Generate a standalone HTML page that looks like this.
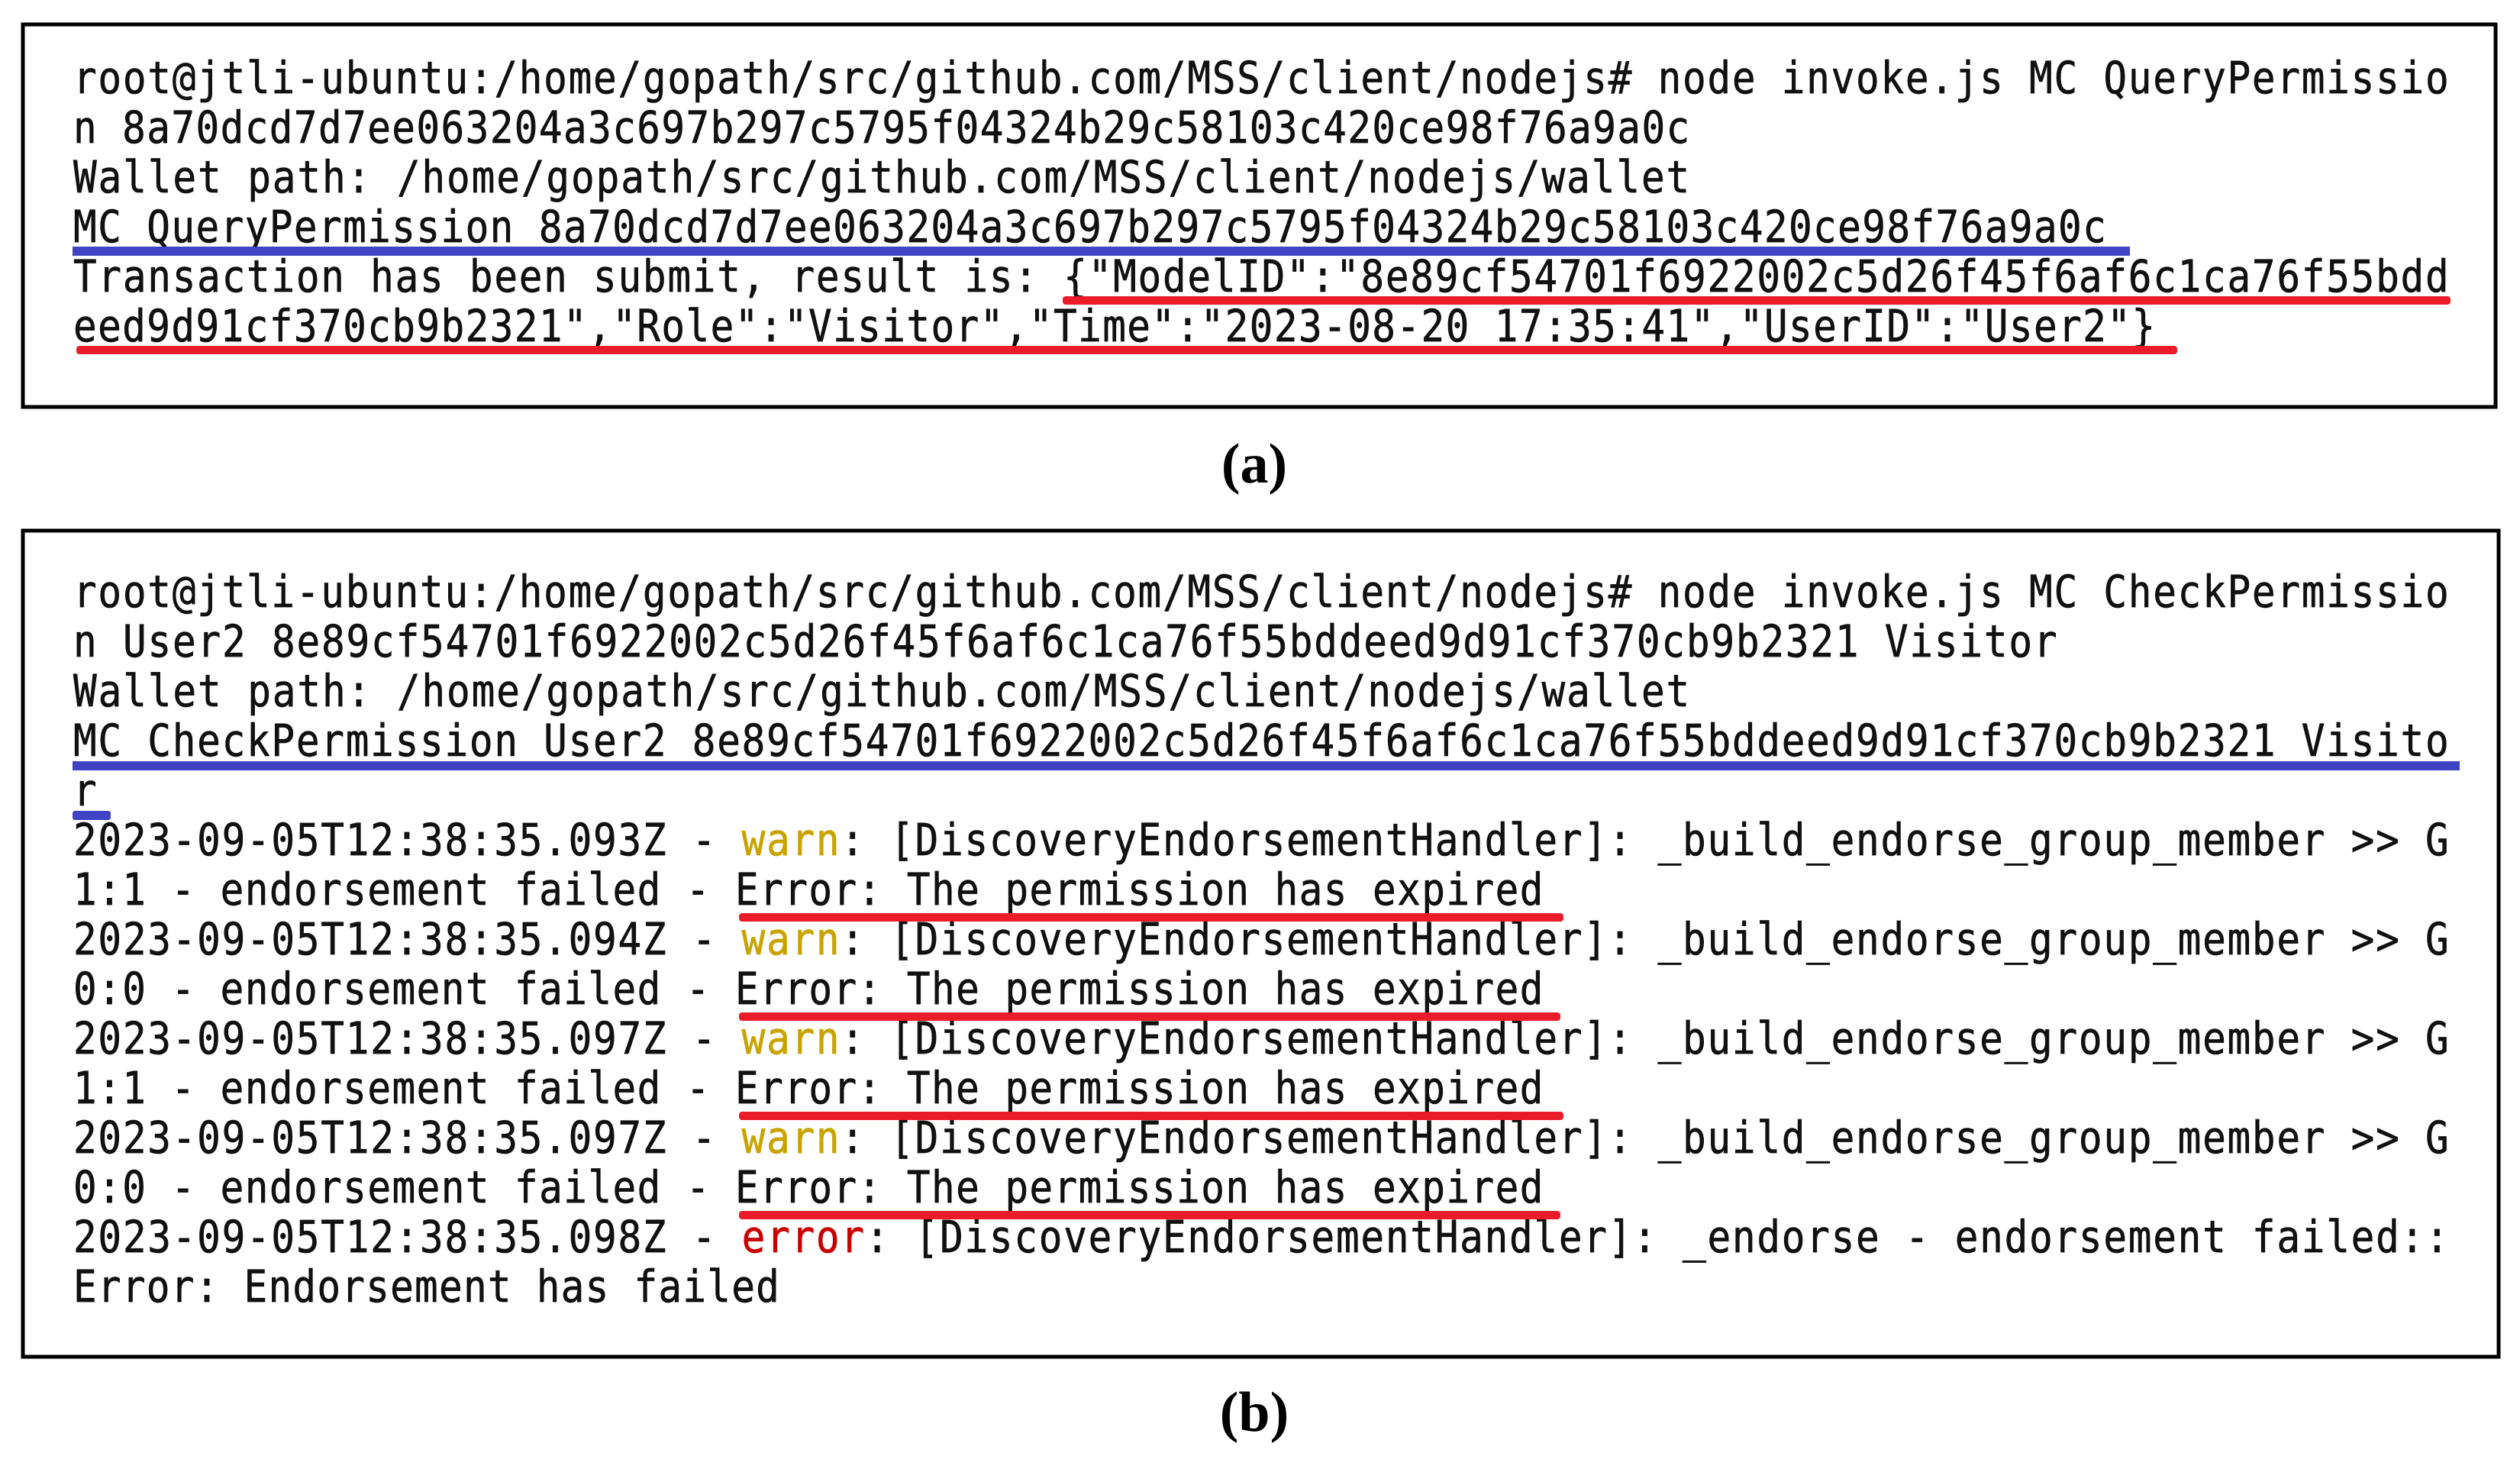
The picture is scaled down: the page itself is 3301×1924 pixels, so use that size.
<!DOCTYPE html>
<html><head><meta charset="utf-8"><style>
html,body{margin:0;padding:0;background:#fff;}
svg{display:block;}
text{font-family:"DejaVu Sans Mono","Liberation Mono",monospace;font-size:58px;fill:#111;stroke:#111;stroke-width:0.7px;}
.w{fill:#c8a400;stroke:#c8a400;} .e{fill:#c80000;stroke:#c80000;}
.lab{font-family:"Liberation Serif",serif;font-weight:bold;font-size:74px;fill:#000;stroke:none;}
</style></head><body>
<svg width="3301" height="1924" viewBox="0 0 3301 1924" xmlns="http://www.w3.org/2000/svg">
<rect x="30" y="32" width="3239" height="501" fill="none" stroke="#000" stroke-width="5"/>
<rect x="30" y="695" width="3243" height="1082" fill="none" stroke="#000" stroke-width="5"/>

<g transform="translate(96,0) scale(0.88,1)">
<text x="0" y="122" textLength="3536" lengthAdjust="spacing" xml:space="preserve">root@jtli-ubuntu:/home/gopath/src/github.com/MSS/client/nodejs# node invoke.js MC QueryPermissio</text>
<text x="0" y="187" textLength="2406" lengthAdjust="spacing" xml:space="preserve">n 8a70dcd7d7ee063204a3c697b297c5795f04324b29c58103c420ce98f76a9a0c</text>
<text x="0" y="252" textLength="2406" lengthAdjust="spacing" xml:space="preserve">Wallet path: /home/gopath/src/github.com/MSS/client/nodejs/wallet</text>
<text x="0" y="317" textLength="3026" lengthAdjust="spacing" xml:space="preserve">MC QueryPermission 8a70dcd7d7ee063204a3c697b297c5795f04324b29c58103c420ce98f76a9a0c</text>
<text x="0" y="382" textLength="3536" lengthAdjust="spacing" xml:space="preserve">Transaction has been submit, result is: {"ModelID":"8e89cf54701f6922002c5d26f45f6af6c1ca76f55bdd</text>
<text x="0" y="447" textLength="3099" lengthAdjust="spacing" xml:space="preserve">eed9d91cf370cb9b2321","Role":"Visitor","Time":"2023-08-20 17:35:41","UserID":"User2"}</text>
</g>
<rect x="95" y="323" width="2695" height="12" fill="#4044c4"/>
<rect x="1392" y="388" width="1818" height="11" rx="4" fill="#ea1c2a"/>
<rect x="100" y="453" width="2752" height="11" rx="4" fill="#ea1c2a"/>

<text class="lab" x="1643" y="632" text-anchor="middle">(a)</text>

<g transform="translate(96,0) scale(0.88,1)">
<text x="0" y="795" textLength="3536" lengthAdjust="spacing" xml:space="preserve">root@jtli-ubuntu:/home/gopath/src/github.com/MSS/client/nodejs# node invoke.js MC CheckPermissio</text>
<text x="0" y="860" textLength="2953" lengthAdjust="spacing" xml:space="preserve">n User2 8e89cf54701f6922002c5d26f45f6af6c1ca76f55bddeed9d91cf370cb9b2321 Visitor</text>
<text x="0" y="925" textLength="2406" lengthAdjust="spacing" xml:space="preserve">Wallet path: /home/gopath/src/github.com/MSS/client/nodejs/wallet</text>
<text x="0" y="990" textLength="3536" lengthAdjust="spacing" xml:space="preserve">MC CheckPermission User2 8e89cf54701f6922002c5d26f45f6af6c1ca76f55bddeed9d91cf370cb9b2321 Visito</text>
<text x="0" y="1055">r</text>
<text x="0" y="1120" textLength="3536" lengthAdjust="spacing" xml:space="preserve">2023-09-05T12:38:35.093Z - <tspan class="w">warn</tspan>: [DiscoveryEndorsementHandler]: _build_endorse_group_member &gt;&gt; G</text>
<text x="0" y="1185" textLength="2188" lengthAdjust="spacing" xml:space="preserve">1:1 - endorsement failed - Error: The permission has expired</text>
<text x="0" y="1250" textLength="3536" lengthAdjust="spacing" xml:space="preserve">2023-09-05T12:38:35.094Z - <tspan class="w">warn</tspan>: [DiscoveryEndorsementHandler]: _build_endorse_group_member &gt;&gt; G</text>
<text x="0" y="1315" textLength="2188" lengthAdjust="spacing" xml:space="preserve">0:0 - endorsement failed - Error: The permission has expired</text>
<text x="0" y="1380" textLength="3536" lengthAdjust="spacing" xml:space="preserve">2023-09-05T12:38:35.097Z - <tspan class="w">warn</tspan>: [DiscoveryEndorsementHandler]: _build_endorse_group_member &gt;&gt; G</text>
<text x="0" y="1445" textLength="2188" lengthAdjust="spacing" xml:space="preserve">1:1 - endorsement failed - Error: The permission has expired</text>
<text x="0" y="1510" textLength="3536" lengthAdjust="spacing" xml:space="preserve">2023-09-05T12:38:35.097Z - <tspan class="w">warn</tspan>: [DiscoveryEndorsementHandler]: _build_endorse_group_member &gt;&gt; G</text>
<text x="0" y="1575" textLength="2188" lengthAdjust="spacing" xml:space="preserve">0:0 - endorsement failed - Error: The permission has expired</text>
<text x="0" y="1640" textLength="3536" lengthAdjust="spacing" xml:space="preserve">2023-09-05T12:38:35.098Z - <tspan class="e">error</tspan>: [DiscoveryEndorsementHandler]: _endorse - endorsement failed::</text>
<text x="0" y="1705" textLength="1051" lengthAdjust="spacing" xml:space="preserve">Error: Endorsement has failed</text>
</g>
<rect x="95" y="997" width="3127" height="12" fill="#4044c4"/>
<rect x="95" y="1062" width="50" height="12" rx="3" fill="#4044c4"/>
<rect x="968" y="1196" width="1080" height="11" rx="4" fill="#ea1c2a"/>
<rect x="968" y="1326" width="1076" height="11" rx="4" fill="#ea1c2a"/>
<rect x="968" y="1456" width="1080" height="11" rx="4" fill="#ea1c2a"/>
<rect x="968" y="1586" width="1076" height="11" rx="4" fill="#ea1c2a"/>

<text class="lab" x="1643" y="1874" text-anchor="middle">(b)</text>
</svg>
</body></html>
